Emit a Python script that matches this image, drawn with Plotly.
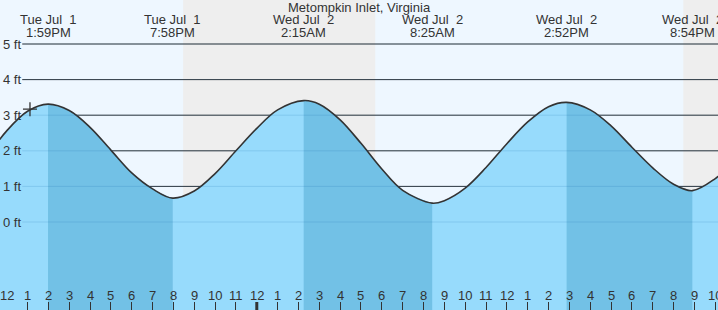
import plotly.graph_objects as go

# ---------------- data ----------------
TITLE = "Metompkin Inlet, Virginia"

TIDE_TIMES = [
    "2025-07-01 11:00", "2025-07-01 12:00", "2025-07-01 13:00", "2025-07-01 13:59",
    "2025-07-01 15:00", "2025-07-01 16:00", "2025-07-01 17:00", "2025-07-01 18:00",
    "2025-07-01 19:00", "2025-07-01 19:58", "2025-07-01 21:00", "2025-07-01 22:00",
    "2025-07-01 23:00", "2025-07-02 00:00", "2025-07-02 01:00", "2025-07-02 02:15",
    "2025-07-02 03:00", "2025-07-02 04:00", "2025-07-02 05:00", "2025-07-02 06:00",
    "2025-07-02 07:00", "2025-07-02 08:25", "2025-07-02 09:00", "2025-07-02 10:00",
    "2025-07-02 11:00", "2025-07-02 12:00", "2025-07-02 13:00", "2025-07-02 14:00",
    "2025-07-02 14:52", "2025-07-02 16:00", "2025-07-02 17:00", "2025-07-02 18:00",
    "2025-07-02 19:00", "2025-07-02 20:00", "2025-07-02 20:54", "2025-07-02 22:00",
    "2025-07-02 23:00",
]
TIDE_FT = [
    1.79, 2.56, 3.11, 3.31,
    3.13, 2.66, 2.02, 1.38,
    0.93, 0.67, 0.87, 1.36,
    2.00, 2.63, 3.15, 3.41,
    3.31, 2.87, 2.21, 1.49,
    0.89, 0.53, 0.60, 0.95,
    1.53, 2.20, 2.81, 3.24,
    3.36, 3.15, 2.70, 2.10,
    1.52, 1.06, 0.88, 1.22,
    1.75,
]

EXT_TIMES = ["2025-07-01 13:59", "2025-07-01 19:58", "2025-07-02 02:15",
             "2025-07-02 08:25", "2025-07-02 14:52", "2025-07-02 20:54"]
EXT_DAY = ["Tue Jul\u00a0\u00a01", "Tue Jul\u00a0\u00a01", "Wed Jul\u00a0\u00a02",
           "Wed Jul\u00a0\u00a02", "Wed Jul\u00a0\u00a02", "Wed Jul\u00a0\u00a02"]
EXT_CLOCK = ["1:59PM", "7:58PM", "2:15AM", "8:25AM", "2:52PM", "8:54PM"]

# falling-tide (high -> low) periods, drawn darker
EBB_START = ["2025-07-01 13:59", "2025-07-02 02:15", "2025-07-02 14:52"]
EBB_END = ["2025-07-01 19:58", "2025-07-02 08:25", "2025-07-02 20:54"]

NIGHT_START = ["2025-07-01 20:28", "2025-07-02 20:28"]
NIGHT_END = ["2025-07-02 05:41", "2025-07-02 23:59"]

NOW_TIME = ["2025-07-01 13:07"]
NOW_FT = [3.17]

HOUR_TICKS = [
    "2025-07-01 12:00", "2025-07-01 13:00", "2025-07-01 14:00", "2025-07-01 15:00",
    "2025-07-01 16:00", "2025-07-01 17:00", "2025-07-01 18:00", "2025-07-01 19:00",
    "2025-07-01 20:00", "2025-07-01 21:00", "2025-07-01 22:00", "2025-07-01 23:00",
    "2025-07-02 00:00", "2025-07-02 01:00", "2025-07-02 02:00", "2025-07-02 03:00",
    "2025-07-02 04:00", "2025-07-02 05:00", "2025-07-02 06:00", "2025-07-02 07:00",
    "2025-07-02 08:00", "2025-07-02 09:00", "2025-07-02 10:00", "2025-07-02 11:00",
    "2025-07-02 12:00", "2025-07-02 13:00", "2025-07-02 14:00", "2025-07-02 15:00",
    "2025-07-02 16:00", "2025-07-02 17:00", "2025-07-02 18:00", "2025-07-02 19:00",
    "2025-07-02 20:00", "2025-07-02 21:00", "2025-07-02 22:00",
]
HOUR_LABELS = ["12", "1", "2", "3", "4", "5", "6", "7", "8", "9", "10", "11",
               "12", "1", "2", "3", "4", "5", "6", "7", "8", "9", "10", "11",
               "12", "1", "2", "3", "4", "5", "6", "7", "8", "9", "10"]
MIDNIGHT = ["2025-07-02 00:00"]

FT_TICKS = [0, 1, 2, 3, 4, 5]
FT_LABELS = ["0 ft", "1 ft", "2 ft", "3 ft", "4 ft", "5 ft"]

# ---------------- style ----------------
DAY_BG = "#EEF7FF"
NIGHT_BG = "#EEEEEE"
WATER = "#97DBFC"
WATER_DARK = "#72C1E6"
INK = "#333333"
FONT = "Liberation Sans, Arial, sans-serif"
X_RANGE = ["2025-07-01 11:40:42", "2025-07-02 22:07:52"]
Y_RANGE = [-2.472, 6.236]
BOTTOM = -3.0
H = 310

fig = go.Figure()

# light water everywhere
fig.add_trace(go.Scatter(x=[TIDE_TIMES[0], TIDE_TIMES[-1]], y=[BOTTOM, BOTTOM],
                         mode="lines", line=dict(width=0), hoverinfo="skip"))
fig.add_trace(go.Scatter(x=TIDE_TIMES, y=TIDE_FT, mode="lines",
                         line=dict(width=0, shape="spline"),
                         fill="tonexty", fillcolor=WATER, hoverinfo="skip"))

# darker ebb segments
for s, e in zip(EBB_START, EBB_END):
    xs = [t for t in TIDE_TIMES if s <= t <= e]
    ys = [v for t, v in zip(TIDE_TIMES, TIDE_FT) if s <= t <= e]
    fig.add_trace(go.Scatter(x=[xs[0], xs[-1]], y=[BOTTOM, BOTTOM], mode="lines",
                             line=dict(width=0), hoverinfo="skip"))
    fig.add_trace(go.Scatter(x=xs, y=ys, mode="lines",
                             line=dict(width=0, shape="spline"),
                             fill="tonexty", fillcolor=WATER_DARK, hoverinfo="skip"))

# tide outline
fig.add_trace(go.Scatter(x=TIDE_TIMES, y=TIDE_FT, mode="lines",
                         line=dict(color=INK, width=1.6, shape="spline"),
                         hoverinfo="skip"))

# current time marker
fig.add_trace(go.Scatter(x=NOW_TIME, y=NOW_FT, mode="markers",
                         marker=dict(symbol="cross-thin", size=10,
                                     line=dict(color=INK, width=1.3)),
                         hoverinfo="skip"))

shapes = []
for s, e in zip(NIGHT_START, NIGHT_END):
    shapes.append(dict(type="rect", xref="x", yref="paper", x0=s, x1=e, y0=0, y1=1,
                       fillcolor=NIGHT_BG, line=dict(width=0), layer="below"))
for v in FT_TICKS[1:]:
    shapes.append(dict(type="line", xref="paper", yref="y", x0=0.031, x1=1, y0=v, y1=v,
                       line=dict(color=INK, width=1), layer="below"))
for v in FT_TICKS:
    shapes.append(dict(type="line", xref="paper", yref="y", x0=0.031, x1=1, y0=v, y1=v,
                       line=dict(color="rgba(20,100,170,0.16)", width=1), layer="above"))
for m in MIDNIGHT:
    shapes.append(dict(type="line", xref="x", yref="paper", x0=m, x1=m,
                       y0=0, y1=8 / H, line=dict(color=INK, width=3), layer="above"))

annotations = [dict(text=TITLE, xref="paper", yref="paper", x=0.5, y=1 - 7.5 / H,
                    xanchor="center", yanchor="middle", showarrow=False)]
for t, d, c in zip(EXT_TIMES, EXT_DAY, EXT_CLOCK):
    annotations.append(dict(text=d, xref="x", yref="paper", x=t, y=1 - 19.5 / H,
                            xanchor="center", yanchor="middle", showarrow=False))
    annotations.append(dict(text=c, xref="x", yref="paper", x=t, y=1 - 32 / H,
                            xanchor="center", yanchor="middle", showarrow=False))
# hour labels, placed just above the inside ticks
for t, lab in zip(HOUR_TICKS, HOUR_LABELS):
    annotations.append(dict(text=lab, xref="x", yref="paper", x=t, y=(H - 295.5) / H,
                            xanchor="center", yanchor="middle", showarrow=False))

fig.update_layout(
    width=718, height=H, margin=dict(l=0, r=0, t=0, b=0),
    paper_bgcolor="white", plot_bgcolor=DAY_BG, showlegend=False,
    font=dict(family=FONT, size=13, color=INK),
    shapes=shapes, annotations=annotations,
    xaxis=dict(type="date", range=X_RANGE, tickmode="array",
               tickvals=HOUR_TICKS, ticktext=[""] * len(HOUR_TICKS),
               ticks="inside", ticklen=8, tickwidth=1, tickcolor=INK,
               showticklabels=True, showgrid=False, zeroline=False,
               showline=False, fixedrange=True),
    yaxis=dict(range=Y_RANGE, tickmode="array", tickvals=FT_TICKS, ticktext=FT_LABELS,
               ticks="", ticklabelposition="inside", showgrid=False, zeroline=False,
               showline=False, fixedrange=True,
               tickfont=dict(family=FONT, size=13, color=INK)),
)

fig.write_html("out.html")
